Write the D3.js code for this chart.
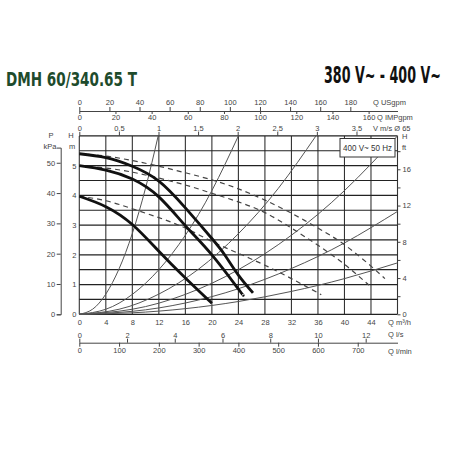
<!DOCTYPE html>
<html>
<head>
<meta charset="utf-8">
<script src="https://cdn.jsdelivr.net/npm/d3@7"></script>
<style>
  body { margin: 0; background: #fff; }
</style>
</head>
<body>
<svg id="chart" width="450" height="450"></svg>
<script>
// pump curves, [Q m3/h, H m]
const pumpMax = [[0, 5.4], [4, 5.27], [8, 4.98], [12, 4.48], [16, 3.58], [20, 2.55], [22, 1.98], [24, 1.32], [26.2, 0.72]];
const pumpMid = [[0, 5.0], [4, 4.85], [8, 4.55], [12, 3.95], [16, 2.98], [20, 2.0], [24, 0.85], [24.7, 0.65]];
const pumpMin = [[0, 3.97], [4, 3.62], [8, 3.02], [12, 2.12], [16, 1.22], [20, 0.37]];

// twin pump curves (dashed)
const twinMax = [[0, 5.4], [4, 5.32], [8, 5.17], [12, 4.98], [16, 4.76], [20, 4.52], [24, 4.22], [28, 3.84], [32, 3.4], [36, 2.9], [40, 2.34], [44, 1.62], [46.1, 1.2]];
const twinMid = [[0, 5.0], [4, 4.92], [8, 4.78], [12, 4.58], [16, 4.35], [20, 4.07], [24, 3.78], [28, 3.42], [32, 2.9], [36, 2.32], [40, 1.68], [43.7, 0.98]];
const twinMin = [[0, 3.97], [4, 3.82], [8, 3.55], [12, 3.25], [16, 2.9], [20, 2.45], [24, 2.05], [28, 1.65], [32, 1.2], [36.5, 0.66]];

// thin system curves
const system1 = [[0, 0], [2, 0.17], [4, 0.68], [6, 1.53], [8, 2.72], [10, 4.25], [11.9, 6.0]];
const system2 = [[0, 0], [4, 0.17], [8, 0.67], [12, 1.5], [16, 2.66], [20, 4.16], [24, 6.0]];
const system3 = [[0, 0], [6, 0.17], [12, 0.68], [18, 1.52], [24, 2.71], [30, 4.23], [35.7, 6.0]];
const system4 = [[0, 0], [8, 0.17], [16, 0.67], [24, 1.5], [32, 2.66], [40, 4.16], [48, 6.0]];
const system5 = [[0, 0], [8, 0.1], [16, 0.38], [24, 0.86], [32, 1.54], [40, 2.4], [48, 3.46]];
const system6 = [[0, 0], [8, 0.05], [16, 0.19], [24, 0.43], [32, 0.77], [40, 1.2], [48, 1.73]];

// ticks
const flowGrid = [0, 4, 8, 12, 16, 20, 24, 28, 32, 36, 40, 44, 48];
const flowTicks = [0, 4, 8, 12, 16, 20, 24, 28, 32, 36, 40, 44];
const headGrid = [0, 0.5, 1, 1.5, 2, 2.5, 3, 3.5, 4, 4.5, 5, 5.5, 6];
const headTicks = [0, 1, 2, 3, 4, 5];
const kpaTicks = [0, 10, 20, 30, 40, 50];
const ftTicks = [0, 2, 4, 6, 8, 10, 12, 14, 16, 18];
const usgpmTicks = [0, 20, 40, 60, 80, 100, 120, 140, 160, 180];
const impgpmTicks = [0, 20, 40, 60, 80, 100, 120, 140, 160];
const velocityTicks = [0, 0.5, 1, 1.5, 2, 2.5, 3, 3.5];
const lpsTicks = [0, 2, 4, 6, 8, 10, 12];
const lpmTicks = [0, 100, 200, 300, 400, 500, 600, 700];

const svg = d3.select('#chart');
const font = 'Liberation Sans, Arial, sans-serif';
const titleFont = 'Liberation Sans Narrow, DejaVu Sans Condensed, DejaVu Sans, sans-serif';
const plotLeft = 79.3, plotRight = 397.5, plotTop = 135.9, plotBottom = 314.3;
const qMax = 48, hMax = 6;

const x = d3.scaleLinear().domain([0, qMax]).range([plotLeft, plotRight]);
const y = d3.scaleLinear().domain([0, hMax]).range([plotBottom, plotTop]);

// unit conversions for the secondary axes
const usX = d3.scaleLinear().domain([0, qMax * 4.4029]).range([plotLeft, plotRight]);
const impX = d3.scaleLinear().domain([0, qMax * 3.6661]).range([plotLeft, plotRight]);
const velX = d3.scaleLinear().domain([0, qMax / (3600 * Math.PI * 0.065 * 0.065 / 4)]).range([plotLeft, plotRight]);
const lpsX = d3.scaleLinear().domain([0, qMax / 3.6]).range([plotLeft, plotRight]);
const lpmX = d3.scaleLinear().domain([0, qMax / 0.06]).range([plotLeft, plotRight]);
const pY = d3.scaleLinear().domain([0, hMax * 9.81]).range([plotBottom, plotTop]);
const ftY = d3.scaleLinear().domain([0, hMax / 0.3048]).range([plotBottom, plotTop]);

// titles, squeezed to the width they have in the picture
function fittedTitle(str, x0, y0, size, width, color) {
    const t = svg.append('text')
        .attr('font-family', titleFont)
        .attr('font-stretch', 'condensed')
        .attr('font-weight', 'bold')
        .attr('font-size', size)
        .attr('fill', color)
        .text(str);
    const w = t.node().getComputedTextLength();
    t.attr('transform', `translate(${x0},${y0}) scale(${width / w},1)`);
}
fittedTitle('DMH 60/340.65 T', 6, 86, 20, 131, '#1e4b2c');
fittedTitle('380 V~ - 400 V~', 324, 83, 23, 117, '#111');

// grid
const grid = svg.append('g');
grid.selectAll('.vline')
    .data(flowGrid)
    .enter()
    .append('line')
    .attr('x1', d => x(d)).attr('x2', d => x(d))
    .attr('y1', plotTop).attr('y2', plotBottom)
    .attr('stroke', '#333').attr('stroke-width', 1.1);

grid.selectAll('.hline')
    .data(headGrid)
    .enter()
    .append('line')
    .attr('x1', plotLeft).attr('x2', plotRight)
    .attr('y1', d => y(d)).attr('y2', d => y(d))
    .attr('stroke', '#222').attr('stroke-width', 1.2);

// curves
const line = d3.line().x(d => x(d[0])).y(d => y(d[1])).curve(d3.curveNatural);
const plot = svg.append('g');

[system1, system2, system3, system4, system5, system6].forEach(c => {
    plot.append('path')
        .attr('d', line(c))
        .attr('fill', 'none')
        .attr('stroke', '#555')
        .attr('stroke-width', 1);
});

[twinMax, twinMid, twinMin].forEach(c => {
    plot.append('path')
        .attr('d', line(c))
        .attr('fill', 'none')
        .attr('stroke', '#444')
        .attr('stroke-width', 1.2)
        .attr('stroke-dasharray', '5,4');
});

[pumpMax, pumpMid, pumpMin].forEach(c => {
    plot.append('path')
        .attr('d', line(c))
        .attr('fill', 'none')
        .attr('stroke', '#111')
        .attr('stroke-width', 2.8);
});

// axes
function styleAxis(g, keepDomain) {
    g.attr('font-family', font).attr('font-size', 7.5);
    g.selectAll('text').attr('fill', '#444');
    g.selectAll('line').attr('stroke', '#444');
    if (keepDomain) g.select('.domain').attr('stroke', '#444');
    else g.select('.domain').remove();
}

svg.append('g')
    .attr('transform', `translate(0,111)`)
    .call(d3.axisTop(usX).tickValues(usgpmTicks).tickSize(4).tickSizeOuter(0).tickPadding(2))
    .call(g => styleAxis(g, true));

svg.append('g')
    .attr('transform', `translate(0,111)`)
    .call(d3.axisBottom(impX).tickValues(impgpmTicks).tickSize(3).tickPadding(1))
    .call(g => styleAxis(g, false));

svg.append('g')
    .attr('transform', `translate(0,${plotTop})`)
    .call(d3.axisTop(velX).tickValues(velocityTicks).tickSize(4).tickPadding(1)
        .tickFormat(d => String(d).replace('.', ',')))
    .call(g => styleAxis(g, false));

svg.append('g')
    .attr('transform', `translate(0,${plotBottom})`)
    .call(d3.axisBottom(x).tickValues(flowTicks).tickSize(0).tickPadding(5).tickFormat(d => d))
    .call(g => styleAxis(g, false));

svg.append('g')
    .attr('transform', `translate(0,342.7)`)
    .call(d3.axisTop(lpsX).tickValues(lpsTicks).tickSize(4).tickSizeOuter(0).tickPadding(1).tickFormat(d => d))
    .call(g => styleAxis(g, true));

svg.append('g')
    .attr('transform', `translate(0,342.7)`)
    .call(d3.axisBottom(lpmX).tickValues(lpmTicks).tickSize(4).tickPadding(1).tickFormat(d => d))
    .call(g => styleAxis(g, false));

svg.append('g')
    .attr('transform', `translate(${plotLeft},0)`)
    .call(d3.axisLeft(y).tickValues(headTicks).tickSize(0).tickPadding(3).tickFormat(d => d))
    .call(g => styleAxis(g, false));

const pAxis = d3.scaleLinear().domain([0, 55]).range([pY(0), pY(55)]);
svg.append('g')
    .attr('transform', `translate(60.7,0)`)
    .call(d3.axisLeft(pAxis).tickValues(kpaTicks).tickSize(4).tickSizeOuter(4).tickPadding(1.5).tickFormat(d => d))
    .call(g => styleAxis(g, true));

svg.append('g')
    .attr('transform', `translate(${plotRight},0)`)
    .call(d3.axisRight(ftY).tickValues(ftTicks).tickSize(3).tickPadding(2)
        .tickFormat(d => d % 4 === 0 ? d : ''))
    .call(g => styleAxis(g, false));

// unit labels
const labels = [
    ['Q USgpm', 373, 105, 'start'],
    ['Q IMPgpm', 377, 120, 'start'],
    ['V m/s Ø 65', 373, 131, 'start'],
    ['H', 402, 139, 'start'],
    ['ft', 402, 150, 'start'],
    ['Q m³/h', 388, 325, 'start'],
    ['Q l/s', 388, 337, 'start'],
    ['Q l/min', 388, 354, 'start'],
    ['P', 51, 138, 'middle'],
    ['kPa', 50, 149, 'middle'],
    ['H', 71, 138, 'middle'],
    ['m', 72, 149, 'middle']
];
svg.selectAll('.unit')
    .data(labels)
    .enter()
    .append('text')
    .attr('x', d => d[1]).attr('y', d => d[2])
    .attr('text-anchor', d => d[3])
    .attr('font-family', font)
    .attr('font-size', 7.5)
    .attr('fill', '#444')
    .text(d => d[0]);

// legend box
svg.append('rect')
    .attr('x', 340).attr('y', 138.5)
    .attr('width', 55).attr('height', 18.5)
    .attr('fill', '#fff')
    .attr('stroke', '#333');

svg.append('text')
    .attr('x', 367.5).attr('y', 151)
    .attr('text-anchor', 'middle')
    .attr('font-family', font)
    .attr('font-size', 9.5)
    .attr('fill', '#333')
    .attr('textLength', 49)
    .attr('lengthAdjust', 'spacingAndGlyphs')
    .text('400 V~ 50 Hz');
</script>
</body>
</html>
